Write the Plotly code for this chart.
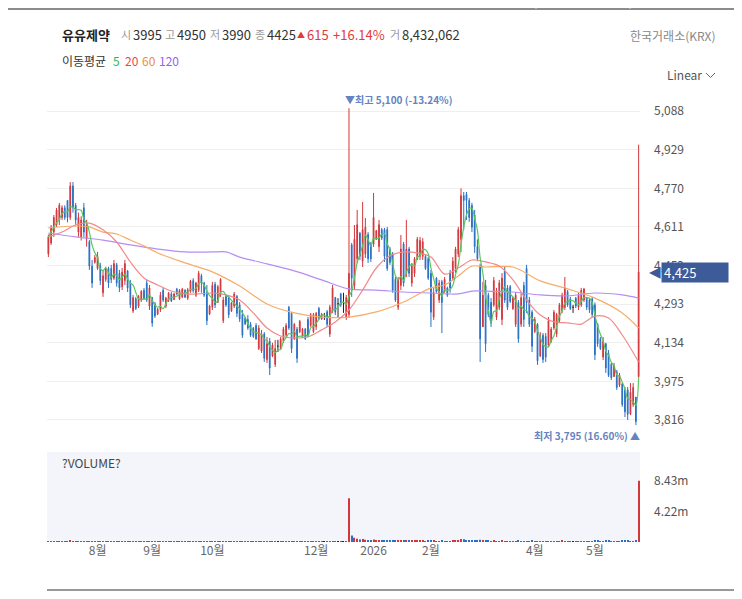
import pandas as pd
import plotly.graph_objects as go

# page body has an 8px margin: figure occupies page pixels 8..742 x 8..599
OFF = 8
W, H = 742 - OFF, 599 - OFF
def px(x): return (x - OFF) / W
def py(y): return 1 - (y - OFF) / H

# ---------------- data ----------------
HOLIDAYS = ["2025-08-15", "2025-10-03", "2025-10-06", "2025-10-07", "2025-10-08",
            "2025-10-09", "2025-12-25", "2025-12-31", "2026-01-01", "2026-02-16",
            "2026-02-17", "2026-02-18", "2026-03-02", "2026-05-01", "2026-05-05",
            "2026-05-25"]
dates = [d.strftime("%Y-%m-%d") for d in pd.bdate_range("2025-07-08", "2026-05-28")
         if d.strftime("%Y-%m-%d") not in HOLIDAYS]

opens = [
    4500, 4545, 4590, 4620, 4640, 4650, 4690, 4720, 4650, 4780, 4700, 4590, 4570, 4690, 4560, 4550, 4450, 4465,
    4440, 4450, 4340, 4395, 4440, 4440, 4400, 4455, 4420, 4365, 4390, 4430, 4380, 4265, 4315, 4285, 4310, 4350,
    4380, 4285, 4320, 4295, 4252, 4270, 4350, 4285, 4308, 4335, 4312, 4355, 4315, 4322, 4350, 4318, 4345, 4390,
    4330, 4350, 4410, 4380, 4340, 4252, 4280, 4375, 4300, 4330, 4225, 4325, 4320, 4265, 4285, 4325, 4290, 4250,
    4235, 4230, 4210,
    4195, 4205, 4110, 4100, 4170, 4065, 4140, 4080, 4045, 4120, 4110, 4140, 4165, 4280, 4255, 4150, 4190, 4180,
    4160, 4190, 4230, 4205, 4180, 4200, 4275, 4232, 4245, 4262, 4170, 4265, 4320, 4295, 4335, 4300, 4240, 4250,
    4537, 4370, 4480, 4585, 4470, 4500, 4580, 4540, 4540, 4560, 4530, 4600, 4600, 4600, 4520, 4500, 4395, 4280,
    4370, 4540, 4420, 4520, 4380, 4420, 4480, 4490, 4490, 4490, 4480, 4420, 4240, 4400, 4310, 4385, 4345, 4360,
    4420, 4400, 4440, 4500, 4560, 4740, 4745, 4720, 4700, 4660,
    4530, 4450,
    4200, 4370, 4330, 4300, 4290, 4240, 4280, 4230, 4430, 4360, 4365, 4275, 4210, 4300, 4210, 4370, 4440, 4310,
    4260, 4180, 4210, 4080, 4165, 4160, 4125, 4140, 4195, 4170, 4225, 4265, 4280, 4345, 4315, 4280, 4318, 4280,
    4290, 4310, 4320, 4310, 4315,
    4290, 4210, 4150, 4075, 4130, 4090, 4045, 3995, 4015, 3960, 3965, 3940, 3940, 3840, 3880, 3910, 3995,
]
highs = [
    4580, 4619, 4660, 4689, 4710, 4700, 4700, 4722, 4796, 4796, 4710, 4670, 4655, 4710, 4640, 4557, 4475, 4495,
    4508, 4463, 4434, 4447, 4447, 4455, 4475, 4463, 4434, 4442, 4475, 4434, 4393, 4331, 4323, 4331, 4351, 4360,
    4393, 4372, 4323, 4302, 4277, 4343, 4360, 4323, 4343, 4343, 4340, 4360, 4355, 4360, 4355, 4360, 4393, 4400,
    4385, 4430, 4418, 4385, 4372, 4290, 4385, 4385, 4372, 4400, 4323, 4331, 4331, 4302, 4343, 4331, 4302, 4269,
    4240, 4248, 4220,
    4199, 4215, 4207, 4187, 4178, 4158, 4154, 4134, 4146, 4146, 4158, 4199, 4215, 4286, 4261, 4215, 4199, 4228,
    4195, 4195, 4240, 4257, 4257, 4261, 4282, 4257, 4257, 4269, 4290, 4372, 4323, 4318, 4340, 4340, 4331, 5100,
    4545, 4619, 4681, 4590, 4714, 4648, 4590, 4549, 4751, 4599, 4640, 4607, 4607, 4611, 4529, 4508, 4405, 4405,
    4578, 4549, 4640, 4529, 4463, 4487, 4570, 4570, 4565, 4496, 4487, 4434, 4360, 4405, 4393, 4393, 4405, 4365,
    4434, 4487, 4529, 4611, 4770, 4755, 4755, 4730, 4710, 4681,
    4560, 4460,
    4385, 4393, 4340, 4318, 4405, 4360, 4393, 4421, 4446, 4372, 4372, 4323, 4343, 4310, 4340, 4385, 4455, 4323,
    4269, 4240, 4215, 4178, 4174, 4174, 4240, 4199, 4269, 4257, 4298, 4340, 4405, 4351, 4323, 4290, 4323, 4340,
    4360, 4360, 4323, 4318, 4323,
    4300, 4216, 4158, 4158, 4134, 4104, 4051, 4051, 4022, 4010, 3968, 3952, 3952, 3968, 3968, 3911, 4950,
]
lows = [
    4487, 4537, 4570, 4611, 4619, 4640, 4640, 4630, 4640, 4670, 4620, 4570, 4555, 4570, 4530, 4434, 4360, 4460,
    4434, 4372, 4323, 4385, 4360, 4380, 4393, 4365, 4343, 4351, 4372, 4343, 4277, 4257, 4269, 4277, 4302, 4310,
    4302, 4269, 4200, 4236, 4248, 4261, 4302, 4277, 4302, 4302, 4310, 4331, 4310, 4318, 4318, 4310, 4340, 4340,
    4323, 4343, 4340, 4323, 4207, 4248, 4269, 4277, 4298, 4323, 4215, 4282, 4236, 4261, 4277, 4240, 4220, 4154,
    4207, 4187, 4158,
    4154, 4146, 4104, 4092, 4055, 4051, 4001, 4075, 4034, 4096, 4104, 4133, 4158, 4187, 4092, 4146, 4051, 4174,
    4154, 4146, 4158, 4199, 4174, 4187, 4228, 4228, 4228, 4199, 4158, 4257, 4248, 4236, 4282, 4257, 4228, 4236,
    4323, 4351, 4463, 4475, 4446, 4483, 4463, 4467, 4529, 4557, 4508, 4557, 4467, 4430, 4455, 4340, 4302, 4269,
    4351, 4365, 4405, 4405, 4365, 4405, 4475, 4475, 4475, 4434, 4393, 4199, 4228, 4340, 4298, 4174, 4340, 4323,
    4340, 4393, 4422, 4487, 4508, 4599, 4640, 4632, 4590, 4504,
    4470, 4055,
    4199, 4096, 4240, 4199, 4282, 4228, 4269, 4207, 4298, 4269, 4298, 4269, 4199, 4134, 4199, 4199, 4257, 4199,
    4096, 4174, 4043, 4075, 4051, 4055, 4117, 4134, 4187, 4158, 4215, 4257, 4269, 4282, 4269, 4257, 4277, 4269,
    4282, 4302, 4269, 4257, 4240,
    4063, 4117, 4104, 4063, 4010, 3993, 3981, 3993, 3940, 3952, 3870, 3828, 3816, 3836, 3870, 3795, 3990,
]
closes = [
    4570, 4610, 4650, 4680, 4700, 4690, 4650, 4650, 4780, 4690, 4640, 4650, 4640, 4590, 4620, 4450, 4380, 4485,
    4490, 4390, 4410, 4440, 4380, 4395, 4460, 4380, 4360, 4425, 4460, 4360, 4290, 4320, 4275, 4325, 4345, 4315,
    4310, 4360, 4215, 4245, 4272, 4330, 4310, 4318, 4338, 4306, 4335, 4335, 4350, 4355, 4322, 4352, 4388, 4348,
    4380, 4420, 4380, 4330, 4225, 4285, 4370, 4290, 4365, 4395, 4310, 4290, 4250, 4298, 4335, 4255, 4232, 4165,
    4212, 4195, 4165,
    4160, 4150, 4195, 4170, 4070, 4130, 4030, 4125, 4110, 4120, 4150, 4190, 4205, 4195, 4110, 4210, 4070, 4222,
    4190, 4150, 4165, 4250, 4250, 4255, 4235, 4252, 4245, 4210, 4280, 4360, 4260, 4295, 4290, 4300, 4320, 4420,
    4400, 4560, 4620, 4490, 4600, 4610, 4480, 4480, 4650, 4595, 4620, 4565, 4490, 4440, 4465, 4350, 4310, 4395,
    4520, 4380, 4520, 4420, 4450, 4480, 4560, 4555, 4550, 4440, 4400, 4260, 4340, 4345, 4380, 4300, 4395, 4330,
    4360, 4470, 4520, 4600, 4740, 4720, 4720, 4650, 4610, 4530,
    4480, 4150,
    4330, 4130, 4250, 4215, 4390, 4340, 4380, 4400, 4310, 4280, 4305, 4318, 4330, 4150, 4320, 4230, 4300, 4210,
    4120, 4230, 4060, 4160, 4065, 4075, 4225, 4190, 4260, 4250, 4290, 4330, 4360, 4290, 4275, 4280, 4285, 4330,
    4350, 4355, 4280, 4270, 4250,
    4085, 4130, 4110, 4140, 4030, 4000, 3990, 4040, 3950, 4000, 3880, 3850, 3840, 3930, 3950, 3810, 4425,
]
volumes_k = [
    60, 70, 90, 100, 80, 60, 50, 60, 180, 120, 70, 60, 50, 70, 60, 110, 100, 40,
    60, 70, 60, 50, 50, 40, 50, 50, 60, 40, 50, 50, 80, 60, 40, 40, 50, 40,
    40, 50, 80, 50, 30, 50, 40, 30, 40, 30, 30, 30, 30, 40, 30, 30, 50, 40,
    40, 60, 50, 40, 70, 40, 60, 50, 40, 50, 60, 40, 40, 30, 40, 50, 40, 60,
    30, 40, 40,
    40, 40, 50, 50, 60, 50, 70, 40, 50, 30, 30, 40, 40, 60, 70, 40, 60, 40,
    30, 30, 40, 40, 40, 50, 30, 30, 30, 40, 60, 70, 50, 30, 40, 30, 60, 6030,
    900, 600, 450, 350, 400, 320, 250, 200, 350, 180, 220, 160, 180, 200, 150, 220, 180, 200,
    240, 200, 220, 160, 150, 140, 170, 150, 140, 130, 140, 220, 150, 120, 130, 180, 130, 110,
    120, 160, 180, 250, 420, 380, 260, 220, 200, 230,
    180, 320,
    180, 230, 140, 130, 160, 120, 130, 170, 120, 100, 90, 80, 110, 150, 120, 130, 120, 110,
    150, 100, 120, 110, 90, 120, 80, 90, 100, 90, 110, 140, 90, 80, 60, 70, 80, 90,
    80, 60, 70, 80, 60,
    220, 140, 110, 120, 150, 140, 110, 90, 130, 100, 150, 170, 190, 130, 100, 180, 8432,
]

# moving averages (index of trading day -> value)
ma20_idx = [0, 5, 10, 15, 20, 25, 30, 35, 40, 45, 50, 55, 60, 65, 70, 75, 80, 85, 90, 95, 100, 105,
            110, 115, 120, 125, 130, 135, 140, 145, 150, 155, 160, 165, 170, 175, 180, 185, 190,
            195, 200, 205, 210, 216]
ma20_val = [4570, 4590, 4619, 4627, 4599, 4549, 4467, 4401, 4372, 4347, 4335, 4335, 4339, 4331, 4310,
            4257, 4195, 4162, 4154, 4158, 4187, 4220, 4269, 4351, 4442, 4492, 4508, 4504, 4487, 4417,
            4442, 4475, 4467, 4450, 4393, 4310, 4248, 4220, 4216, 4211, 4244, 4236, 4166, 4055]
ma60_idx = [0, 10, 15, 20, 25, 30, 35, 40, 50, 60, 70, 80, 90, 100, 110, 120, 130, 140, 145, 150,
            155, 160, 170, 180, 190, 200, 210, 216]
ma60_val = [4607, 4615, 4611, 4590, 4582, 4557, 4533, 4504, 4463, 4426, 4368, 4294, 4257, 4240, 4240,
            4261, 4302, 4360, 4372, 4409, 4450, 4446, 4446, 4389, 4356, 4318, 4257, 4195]
ma120_idx = [0, 10, 20, 30, 40, 50, 60, 65, 70, 80, 90, 100, 110, 120, 130, 140, 150, 155, 160, 170,
             180, 190, 200, 210, 216]
ma120_val = [4586, 4570, 4557, 4537, 4520, 4508, 4508, 4508, 4487, 4459, 4430, 4393, 4356, 4351, 4343,
             4339, 4335, 4347, 4347, 4343, 4331, 4327, 4339, 4331, 4318]

price_ticks = [3816, 3975, 4134, 4293, 4452, 4611, 4770, 4929, 5088]
vol_ticks = [4.22e6, 8.43e6]
vol_tick_text = ["4.22m", "8.43m"]
month_labels = {"2025-08": "8월", "2025-09": "9월", "2025-10": "10월", "2025-12": "12월",
                "2026-01": "2026", "2026-02": "2월", "2026-04": "4월", "2026-05": "5월"}

n = len(closes)
dates = dates[:n]

UP, DN, DOJI = "#d2373c", "#2a70c4", "#222222"
FONT = "Noto Sans CJK KR, Noto Sans, sans-serif"
TAG = "#3d5a99"

doji = [o == c for o, c in zip(opens, closes)]
def pick(vals, keep):
    return [v if k else None for v, k in zip(vals, keep)]
nd = [not d for d in doji]

fig = go.Figure()
fig.add_trace(go.Candlestick(
    x=dates, open=pick(opens, nd), high=pick(highs, nd), low=pick(lows, nd), close=pick(closes, nd),
    increasing=dict(line=dict(color=UP, width=1), fillcolor=UP),
    decreasing=dict(line=dict(color=DN, width=1), fillcolor=DN),
    whiskerwidth=0, xaxis="x", yaxis="y", hoverinfo="skip"))
fig.add_trace(go.Candlestick(
    x=dates, open=pick(opens, doji), high=pick(highs, doji), low=pick(lows, doji), close=pick(closes, doji),
    increasing=dict(line=dict(color=DOJI, width=1), fillcolor=DOJI),
    decreasing=dict(line=dict(color=DOJI, width=1), fillcolor=DOJI),
    whiskerwidth=0, xaxis="x", yaxis="y", hoverinfo="skip"))

ma5 = pd.Series(closes).rolling(5, min_periods=1).mean().tolist()
for xs, ys, col in [
    ([dates[i] for i in ma120_idx], ma120_val, "#b78df3"),
    ([dates[i] for i in ma60_idx], ma60_val, "#f6ad6a"),
    ([dates[i] for i in ma20_idx], ma20_val, "#f18a8a"),
    (dates, ma5, "#5dc560"),
]:
    fig.add_trace(go.Scatter(x=xs, y=ys, mode="lines",
                             line=dict(color=col, width=1.2, shape="spline", smoothing=0.9),
                             xaxis="x", yaxis="y", hoverinfo="skip"))

vol_colors = [UP if c > o else (DN if c < o else DOJI) for o, c in zip(opens, closes)]
fig.add_trace(go.Bar(x=dates, y=[v * 1000 for v in volumes_k], marker=dict(color=vol_colors, line=dict(width=0)),
                     xaxis="x2", yaxis="y2", hoverinfo="skip"))

# month ticks
tick_x, tick_t = [], []
seen = set()
for d in dates:
    key = d[:7]
    if key in month_labels and key not in seen:
        seen.add(key)
        tick_x.append(d)
        tick_t.append(month_labels[key])

xdom = [px(47), px(640)]
fig.update_layout(
    width=W, height=H, margin=dict(l=0, r=0, t=0, b=0),
    paper_bgcolor="white", plot_bgcolor="white", showlegend=False,
    font=dict(family=FONT, size=12, color="#333"),
    bargap=0.6, boxgap=0.6,
    xaxis=dict(domain=xdom, type="category", categoryorder="array", categoryarray=dates,
               range=[-0.5, n - 0.5], showticklabels=False, showgrid=False, zeroline=False,
               rangeslider=dict(visible=False), anchor="y", fixedrange=True),
    yaxis=dict(domain=[py(445), py(90)], range=[3713, 5175], side="right",
               tickvals=price_ticks, ticktext=[f"{v:,}" for v in price_ticks],
               showgrid=True, gridcolor="#efefef", gridwidth=1, zeroline=False, ticks="",
               tickfont=dict(size=12, color="#555"), ticklabelstandoff=13, anchor="x"),
    xaxis2=dict(domain=xdom, type="category", categoryorder="array", categoryarray=dates,
                range=[-0.5, n - 0.5], tickvals=tick_x, ticktext=tick_t, ticks="",
                tickfont=dict(size=12, color="#666"), showgrid=False, zeroline=False, anchor="y2"),
    yaxis2=dict(domain=[py(542), py(452)], range=[0, 12.37e6], side="right",
                tickvals=vol_ticks, ticktext=vol_tick_text, showgrid=False, zeroline=False, ticks="",
                tickfont=dict(size=12, color="#555"), ticklabelstandoff=13, anchor="x2"),
)

shapes = [
    dict(type="rect", xref="x2 domain", yref="y2 domain", x0=0, x1=1, y0=0, y1=1,
         fillcolor="#f3f5fa", line=dict(width=0), layer="below"),
    dict(type="line", xref="paper", yref="paper", x0=0, x1=1, y0=py(9), y1=py(9),
         line=dict(color="#666", width=1.5)),
    dict(type="line", xref="paper", yref="paper", x0=px(536), x1=px(536), y0=1, y1=py(9),
         line=dict(color="#ddd", width=1)),
    dict(type="line", xref="paper", yref="paper", x0=px(630), x1=px(630), y0=1, y1=py(9),
         line=dict(color="#ddd", width=1)),
    dict(type="line", xref="paper", yref="paper", x0=px(47), x1=1, y0=py(590), y1=py(590),
         line=dict(color="#777", width=1.5)),
    dict(type="path", xref="paper", yref="paper",
         path=f"M {px(706)},{py(73)} L {px(710.5)},{py(77.5)} L {px(715)},{py(73)}",
         line=dict(color="#666", width=1)),
]
fig.update_layout(shapes=shapes)

ann = []
def T(x, y, text, color="#333", size=12, anchor="left", bold=False):
    ann.append(dict(xref="paper", yref="paper", x=px(x), y=py(y), text=f"<b>{text}</b>" if bold else text,
                    showarrow=False, xanchor=anchor, yanchor="middle",
                    font=dict(size=size, color=color, family=FONT)))

T(60, 34, "유유제약", "#222", 13, bold=True)
GRAY, DARK, RED = "#999", "#333", "#e03a3a"
T(119, 34, "시", GRAY, 11); T(131, 34, f"{opens[-1]}", DARK, 13)
T(163, 34, "고", GRAY, 11); T(175, 34, f"{highs[-1]}", DARK, 13)
T(208, 34, "저", GRAY, 11); T(220, 34, f"{lows[-1]}", DARK, 13)
T(253, 34, "종", GRAY, 11); T(265, 34, f"{closes[-1]}", DARK, 13)
chg = closes[-1] - closes[-2]
pct = chg / closes[-2] * 100
T(295, 34, "▲", RED, 8); T(305, 34, f"{chg}", RED, 13); T(331, 34, f"+{pct:.2f}%", RED, 13)
T(388, 34, "거", GRAY, 11); T(400, 34, f"{volumes_k[-1] * 1000 + 62:,}", DARK, 13)
T(718, 36, "한국거래소(KRX)", "#888", 12, anchor="right")
T(60, 61, "이동평균", DARK)
T(111, 61, "5", "#2db84b"); T(123, 61, "20", "#e84848"); T(140, 61, "60", "#f08c3a"); T(157, 61, "120", "#9a5ef0")
T(665, 75, "Linear", "#555")
T(60, 462, "?VOLUME?", "#444")

hi_i = highs.index(max(highs))
lo_i = lows.index(min(lows))
hi_pct = (closes[-1] - highs[hi_i]) / highs[hi_i] * 100
lo_pct = (closes[-1] - lows[lo_i]) / lows[lo_i] * 100
ann.append(dict(xref="x", yref="y", x=dates[hi_i], y=highs[hi_i], showarrow=False,
                xanchor="left", yanchor="bottom", xshift=-6, yshift=-1,
                text=f"<b>▼최고 {highs[hi_i]:,} ({hi_pct:.2f}%)</b>",
                font=dict(size=10, color="#6583c0", family=FONT)))
ann.append(dict(xref="x", yref="y", x=dates[lo_i], y=lows[lo_i], showarrow=False,
                xanchor="right", yanchor="top", xshift=6, yshift=-1,
                text=f"<b>최저 {lows[lo_i]:,} ({lo_pct:.2f}%) ▲</b>",
                font=dict(size=10, color="#6583c0", family=FONT)))
# current price tag (annotations sit above the axis labels, so it covers the 4,452 label like the original)
ann.append(dict(xref="paper", yref="y", x=px(661), y=closes[-1], showarrow=False,
                xanchor="left", yanchor="middle", text=f"{closes[-1]:,}", align="left",
                width=62, height=15, borderpad=2, bgcolor=TAG,
                font=dict(size=13, color="white", family=FONT)))
ann.append(dict(xref="paper", yref="y", x=px(663), y=closes[-1], showarrow=False,
                xanchor="right", yanchor="middle", text="◀",
                font=dict(size=15, color=TAG, family="DejaVu Sans")))
fig.update_layout(annotations=ann)

fig.write_html("out.html")
